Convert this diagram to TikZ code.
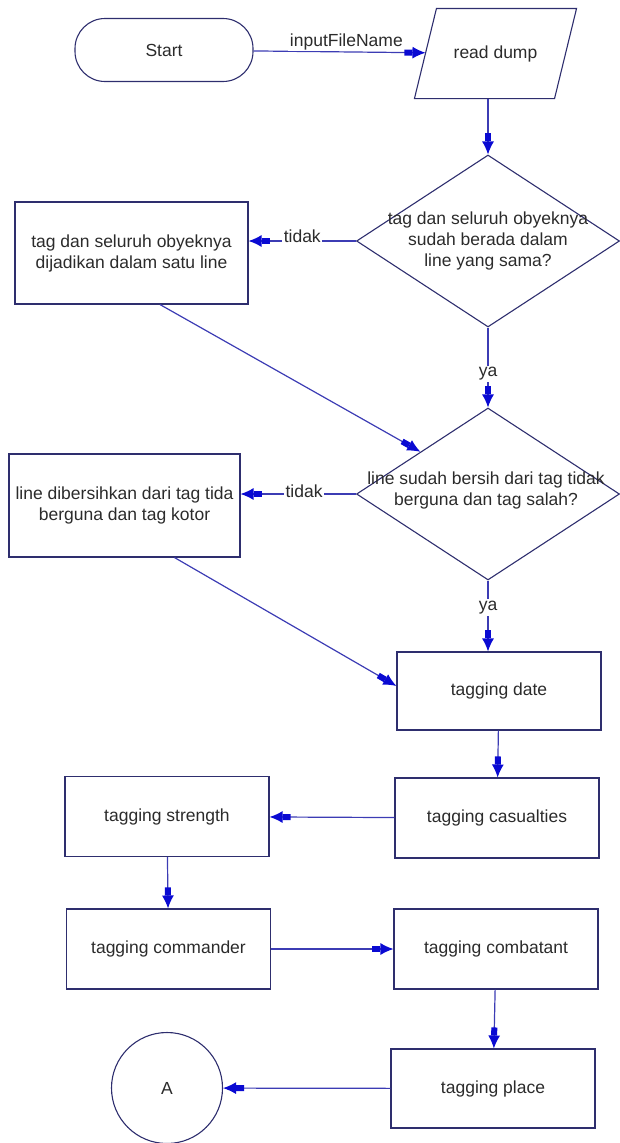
\documentclass[tikz,border=0pt]{standalone}
\usepackage{fontspec}
\setmainfont{Liberation Sans}
\usepackage{tikz}
\usetikzlibrary{shapes.geometric}
\usetikzlibrary{arrows.meta}
\usetikzlibrary{graphs}

\definecolor{edgeblue}{HTML}{3C3CB4}
\definecolor{tipblue}{HTML}{0A0AD2}
\definecolor{boxnavy}{HTML}{2E2E6E}
\definecolor{inkgray}{HTML}{2B2B2B}
\newcommand\flowfont{\fontsize{17.5}{21}\selectfont}

\tikzset{
    flowtip/.tip={Rectangle[length=8pt,width=6pt,color=tipblue]Latex[length=13pt,width=12pt,color=tipblue]},
    outline/.style={draw=boxnavy, line width=1.1pt},
    base/.style={outline, font=\flowfont, text=inkgray, inner sep=0pt, align=center},
    process/.style={base, rectangle, minimum width=204pt, minimum height=80pt},
    term/.style={base, rectangle, rounded corners=30pt, minimum width=178pt, minimum height=63pt},
    io/.style={base, draw=none, rectangle, minimum width=139pt, minimum height=89pt},
    decision/.style={base, diamond, minimum width=263pt, minimum height=172pt},
    joint/.style={base, circle, minimum size=111pt},
    flow/.style={draw=edgeblue, line width=1.2pt, -{flowtip}},
    lbl/.style={font=\flowfont, text=inkgray, fill=white, inner sep=1.5pt, align=center},
}

\begin{document}
\begin{tikzpicture}[x=1pt, y=-1pt, >={flowtip}]
    \useasboundingbox (0,0) rectangle (619,1143);

    \node[term] (start) at (164,50) {Start};
    \node[io] (read) at (495.5,53.5) {read dump};
    \draw[outline] ([xshift=11pt]read.north west) -- ([xshift=11pt]read.north east)
        -- ([xshift=-11pt]read.south east) -- ([xshift=-11pt]read.south west) -- cycle;
    \node[decision, label={[lbl, fill=none]center:{tag dan seluruh obyeknya\\sudah berada dalam\\line yang sama?}}] (cek) at (488,241) {};
    \node[process, minimum width=233pt, minimum height=102pt] (gabung) at (131.5,253) {tag dan seluruh obyeknya\\dijadikan dalam satu line};
    \node[decision, label={[lbl, fill=none, xshift=-2pt, yshift=4pt]center:{line sudah bersih dari tag tidak\\berguna dan tag salah?}}] (bersih) at (488,494) {};
    \node[process, minimum width=231pt, minimum height=103pt] (buang) at (124.5,505.5) {line dibersihkan dari tag tida\\berguna dan tag kotor};
    \node[process, minimum height=78pt] (date) at (499,691) {tagging date};
    \node[process] (cas) at (497,818) {tagging casualties};
    \node[process] (str) at (167,816.5) {tagging strength};
    \node[process] (com) at (168.5,949) {tagging commander};
    \node[process] (comb) at (496,949) {tagging combatant};
    \node[process, minimum height=79pt] (place) at (493,1088.5) {tagging place};
    \node[joint] (A) at (167,1088) {A};

    \graph[use existing nodes, edges={flow}] {
        start ->[edge node={node[lbl, above, pos=0.54] {inputFileName}}] read;
        date -> cas -> str -> com -> comb -> place -> A;
    };

    \draw[flow] (read.south -| cek.north) -- (cek.north);
    \draw[flow] (cek.west) -- (cek.west -| gabung.east) node[lbl, midway, yshift=5pt] {tidak};
    \draw[flow] (cek.south) -- (bersih.north) node[lbl, pos=0.58] {ya};
    \draw[flow] ([xshift=28.5pt]gabung.south) -- (bersih.148);
    \draw[flow] (bersih.west) -- (bersih.west -| buang.east) node[lbl, pos=0.45, yshift=3pt] {tidak};
    \draw[flow] (bersih.south) -- (bersih.south |- date.north) node[lbl, pos=0.38] {ya};
    \draw[flow] ([xshift=50pt]buang.south) -- ([yshift=5pt]date.west);
\end{tikzpicture}
\end{document}
